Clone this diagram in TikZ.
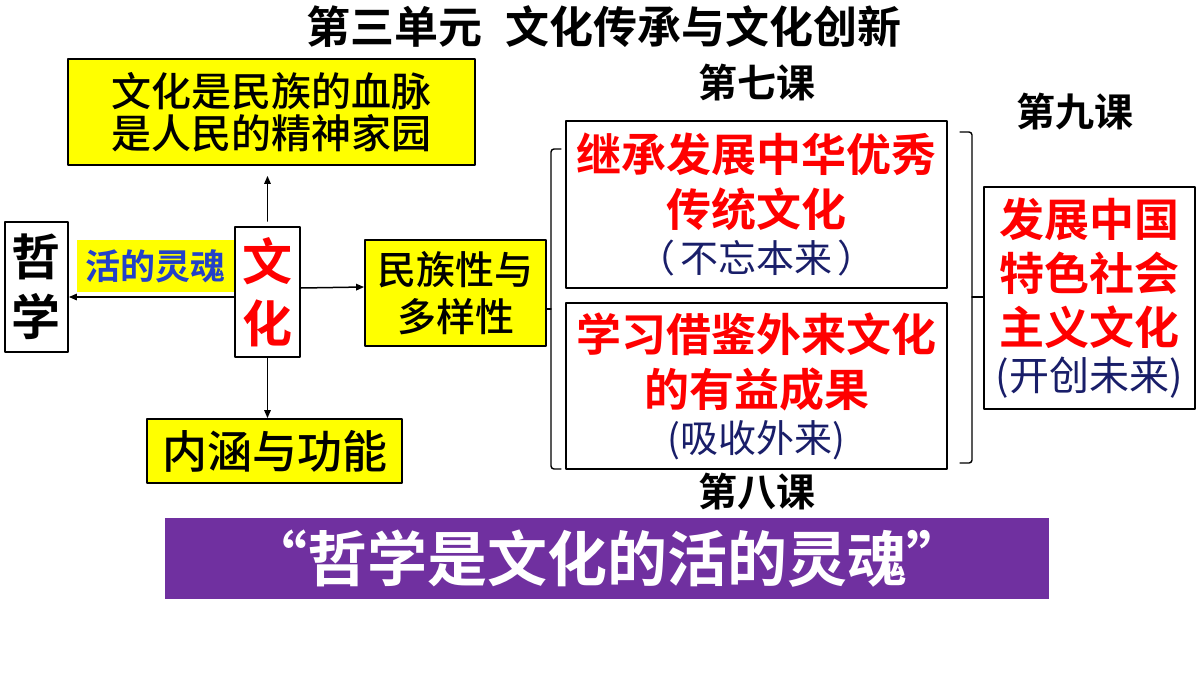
\documentclass[tikz,border=0pt]{standalone}
\usepackage{fontspec}
\setmainfont{Noto Sans CJK SC}[BoldFont={Noto Sans CJK SC Bold}]
\IfFontExistsTF{Noto Sans CJK SC Medium}
	{\newfontfamily\midcjk{Noto Sans CJK SC Medium}}
	{\newcommand{\midcjk}{\mdseries}}
\usetikzlibrary{arrows.meta}
\definecolor{boxyellow}{RGB}{255,255,0}
\definecolor{keyred}{RGB}{255,0,0}
\definecolor{soulblue}{RGB}{35,65,200}
\definecolor{noteblue}{RGB}{25,30,105}
\definecolor{bandpurple}{RGB}{112,48,160}
\newcommand{\fsz}[2]{\fontsize{#1}{#2}\selectfont}
\tikzset{
	ybox/.style={draw=black,line width=1.8pt,fill=boxyellow,inner sep=0pt,align=center},
	wbox/.style={draw=black,line width=1.8pt,fill=white,inner sep=0pt,align=center},
	redbox/.style={wbox,text=keyred,font=\bfseries\fsz{45}{55}},
	lesson/.style={font=\bfseries\fsz{39}{39}},
	arr/.style={->,line width=1.5pt},
	brace/.style={line width=1.4pt,rounded corners=3pt}
}

\begin{document}
\begin{tikzpicture}[line cap=round,line join=round,>={Triangle[length=8pt,width=6.5pt]},x=1pt,y=-1pt]
	\useasboundingbox (0,0) rectangle (1200,675);
	\fill[white] (0,0) rectangle (1200,675);
	\node[font=\bfseries\fsz{44}{44}] (title) at (604,27) {第三单元\hspace{24pt}文化传承与文化创新};
	\node[ybox,minimum width=407pt,minimum height=106pt,font=\midcjk\fsz{40}{42}] (xuemai) at (271.5,112) {文化是民族的血脉\\是人民的精神家园};
	\node[wbox,minimum width=63pt,minimum height=130pt,font=\bfseries\fsz{49}{60}] (zhexue) at (36.5,287) {哲\\学};
	\node[fill=boxyellow,minimum width=157pt,minimum height=52pt,inner sep=0pt,text=soulblue,font=\bfseries\fsz{35}{35}] (linghun) at (155.5,266) {活的灵魂};
	\node[wbox,minimum width=65pt,minimum height=130pt,text=keyred,font=\bfseries\fsz{50}{62}] (wenhua) at (267.5,292) {文\\化};
	\node[ybox,minimum width=255pt,minimum height=64pt,font=\midcjk\fsz{45}{45}] (neihan) at (274.5,451) {内涵与功能};
	\node[ybox,minimum width=181pt,minimum height=106pt,font=\midcjk\fsz{39}{47}] (minzu) at (455.5,293) {民族性与\\多样性};
	\node[redbox,minimum width=381pt,minimum height=167pt] (jicheng) at (756.5,204.5) {继承发展中华优秀\\传统文化\\[-9pt]{\mdseries\fsz{38}{38}\color{noteblue}（\hspace{5pt}不忘本来\hspace{5pt}）}};
	\node[redbox,minimum width=381pt,minimum height=166pt] (jiejian) at (756.5,386) {学习借鉴外来文化\\的有益成果\\[-9pt]{\mdseries\fsz{38}{38}\color{noteblue}(吸收外来)}};
	\node[redbox,minimum width=211pt,minimum height=222pt,font=\bfseries\fsz{45}{54}] (fazhan) at (1089.5,298) {发展中国\\特色社会\\主义文化\\[-8pt]{\mdseries\fsz{40}{40}\color{noteblue}(开创未来)}};
	\node[lesson] (qike) at (757,83) {第七课};
	\node[lesson] (bake) at (757,492) {第八课};
	\node[lesson] (jiuke) at (1075,112) {第九课};
	\node[fill=bandpurple,minimum width=884pt,minimum height=81pt,inner sep=0pt,text=white,font=\bfseries\fsz{60}{60}] (band) at (607,558.5) {“哲学是文化的活的灵魂”};
	\draw[arr] ([yshift=5pt]wenhua.north) -- ([yshift=-10pt]wenhua.north |- xuemai.south);
	\draw[arr] ([yshift=-5pt]wenhua.west) -- ([yshift=-5pt]wenhua.west -| zhexue.east);
	\draw[arr] (wenhua.south) -- (wenhua.south |- neihan.north);
	\draw[arr] ([yshift=4pt]wenhua.east) -- ([yshift=6pt]minzu.west);
	\coordinate (lbrace) at (551,309);
	\coordinate (rbrace) at (972,297);
	\draw[brace] (561,149) -- (551,149) -- (551,469) -- (561,469);
	\draw[line width=1.4pt] (minzu.east |- lbrace) -- (lbrace);
	\draw[brace] (960,132) -- (972,132) -- (972,463) -- (960,463);
	\draw[line width=1.4pt] (rbrace) -- (fazhan.west |- rbrace);
\end{tikzpicture}
\end{document}
